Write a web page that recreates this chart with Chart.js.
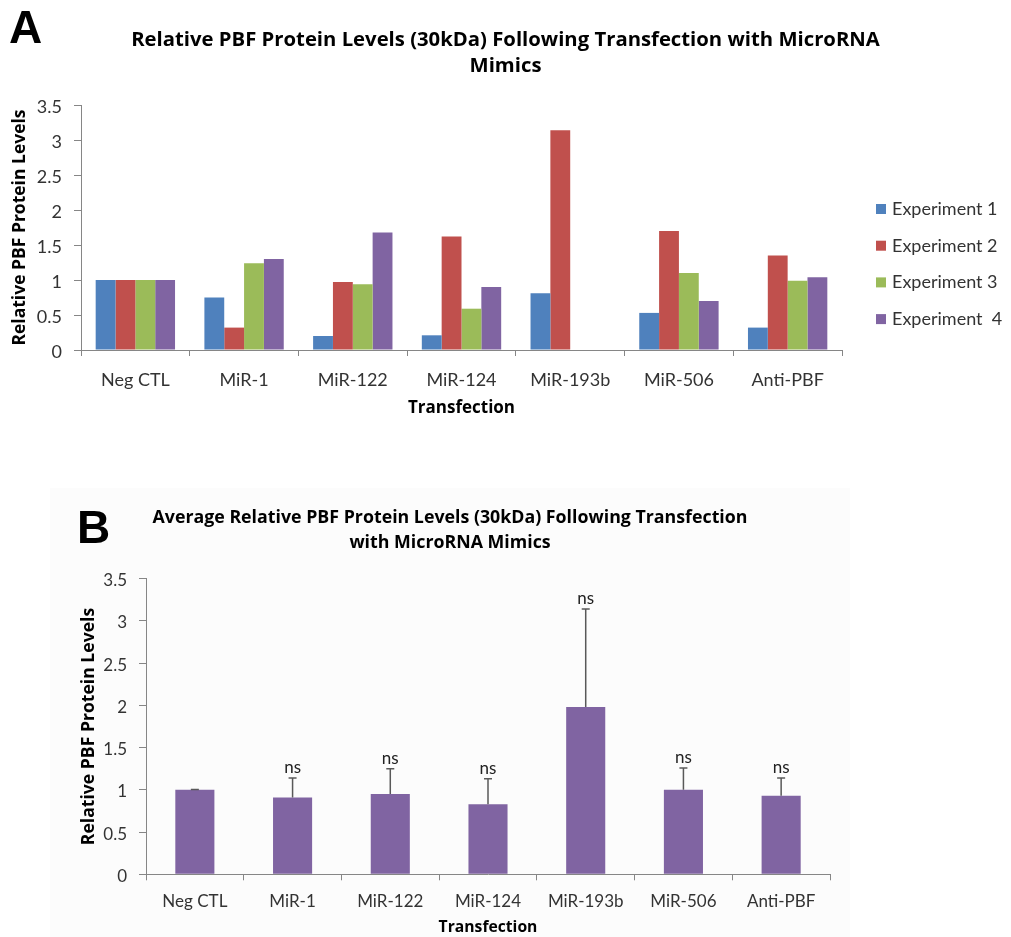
<!DOCTYPE html>
<html>
<head>
<meta charset="utf-8">
<script src="https://cdn.jsdelivr.net/npm/chart.js@4.4.1/dist/chart.umd.min.js"></script>
<style>
  html, body { margin: 0; padding: 0; background: #fff; }
  body { width: 1011px; height: 937px; position: relative; overflow: hidden; }
  .panel-letter { position: absolute; font-family: "Liberation Sans", Arial, sans-serif; font-weight: bold; font-size: 46px; line-height: 1; color: #000; }
  #wrapA { position: absolute; left: 0; top: 0; width: 1011px; height: 430px; }
  #wrapB { position: absolute; left: 50px; top: 488px; width: 800px; height: 449px; background: #fcfcfc; }
</style>
</head>
<body>
<div id="wrapA"><canvas id="chartA"></canvas></div>
<div id="wrapB"><canvas id="chartB"></canvas></div>
<div class="panel-letter" style="left:9px;top:4px">A</div>
<div class="panel-letter" style="left:77px;top:504px">B</div>
<script>
// ---- data ----
const transfections = ['Neg CTL', 'MiR-1', 'MiR-122', 'MiR-124', 'MiR-193b', 'MiR-506', 'Anti-PBF'];

const experiment1 = [1.00, 0.75, 0.20, 0.21, 0.81, 0.53, 0.32];
const experiment2 = [1.00, 0.32, 0.97, 1.62, 3.14, 1.70, 1.35];
const experiment3 = [1.00, 1.24, 0.94, 0.59, null, 1.10, 0.99];
const experiment4 = [1.00, 1.30, 1.68, 0.90, null, 0.70, 1.04];
const experimentLabels = ['Experiment 1', 'Experiment 2', 'Experiment 3', 'Experiment  4'];
const experimentColors = ['#4F81BD', '#C0504D', '#9BBB59', '#8064A2'];

const averageLevels  = [1.00, 0.91, 0.95, 0.83, 1.98, 1.00, 0.93];
const averageErrorUp = [0.005, 0.23, 0.30, 0.30, 1.16, 0.26, 0.21];
const significance   = ['', 'ns', 'ns', 'ns', 'ns', 'ns', 'ns'];

const yTicks = [0, 0.5, 1, 1.5, 2, 2.5, 3, 3.5];

const FONT = 'Lato, "Open Sans", sans-serif';
const BOLD_FONT = '"Open Sans", Lato, sans-serif';
const AXIS_GREY = '#868686';
const TEXT = '#333333';

// legend drawn to the right of panel A
const sideLegend = {
    id: 'sideLegend',
    afterDraw(chart) {
        const {ctx, chartArea} = chart;
        ctx.save();
        ctx.font = '18px ' + FONT;
        ctx.textBaseline = 'middle';
        ctx.textAlign = 'left';
        chart.data.datasets.forEach((ds, i) => {
            const x = chartArea.right + 34;
            const y = chartArea.top + 104 + i * 36.7;
            ctx.fillStyle = ds.backgroundColor;
            ctx.fillRect(x, y - 5, 10, 10);
            ctx.fillStyle = TEXT;
            ctx.fillText(ds.label, x + 16, y);
        });
        ctx.restore();
    }
};

// upper error bars + "ns" marks for panel B
const errorBars = {
    id: 'errorBars',
    afterDatasetsDraw(chart) {
        const {ctx} = chart;
        const yScale = chart.scales.y;
        const meta = chart.getDatasetMeta(0);
        ctx.save();
        ctx.strokeStyle = '#595959';
        ctx.lineWidth = 1.5;
        ctx.fillStyle = '#222';
        ctx.font = '17px ' + FONT;
        ctx.textAlign = 'center';
        ctx.textBaseline = 'alphabetic';
        meta.data.forEach((bar, i) => {
            const top = yScale.getPixelForValue(averageLevels[i] + averageErrorUp[i]);
            ctx.beginPath();
            ctx.moveTo(bar.x, bar.y);
            ctx.lineTo(bar.x, top);
            ctx.moveTo(bar.x - 4, top);
            ctx.lineTo(bar.x + 4, top);
            ctx.stroke();
            if (significance[i]) {
                ctx.fillText(significance[i], bar.x, top - 5);
            }
        });
        ctx.restore();
    }
};

function yAxis(width, tickSize, titleSize, titlePad) {
    return {
        min: 0,
        max: 3.5,
        afterBuildTicks: s => { s.ticks = yTicks.map(v => ({value: v})); },
        afterFit: s => { s.width = width; },
        ticks: {
            color: TEXT,
            font: {family: FONT, size: tickSize},
            padding: 12,
            labelOffset: 2,
            callback: v => String(v)
        },
        grid: {drawOnChartArea: false, color: AXIS_GREY, tickLength: 7},
        border: {color: AXIS_GREY},
        title: {
            display: true,
            text: 'Relative PBF Protein Levels',
            color: '#000',
            font: {family: BOLD_FONT, size: titleSize, weight: 'bold'},
            padding: {top: titlePad, bottom: 0}
        }
    };
}

function xAxis(height, tickSize, tickPad, titleSize, titlePadBottom) {
    return {
        afterFit: s => { s.height = height; },
        ticks: {color: TEXT, font: {family: FONT, size: tickSize}, padding: tickPad},
        grid: {drawOnChartArea: false, offset: true, color: AXIS_GREY, tickLength: 6},
        border: {color: AXIS_GREY},
        title: {
            display: true,
            text: 'Transfection',
            color: '#000',
            font: {family: BOLD_FONT, size: titleSize, weight: 'bold'},
            padding: {top: 0, bottom: titlePadBottom}
        }
    };
}

// empty box on the right so the chart title stays centred on the whole figure
function rightSpace(width) {
    return {
        type: 'linear',
        position: 'right',
        afterFit: s => { s.width = width; },
        grid: {display: false},
        ticks: {display: false},
        border: {display: false}
    };
}

// ---- panel A ----
const seriesA = [experiment1, experiment2, experiment3, experiment4];
new Chart(document.getElementById('chartA').getContext('2d'), {
    type: 'bar',
    data: {
        labels: transfections,
        datasets: seriesA.map((values, i) => ({
            label: experimentLabels[i],
            data: values,
            backgroundColor: experimentColors[i],
            categoryPercentage: 0.73,
            barPercentage: 1.0
        }))
    },
    options: {
        responsive: true,
        maintainAspectRatio: false,
        animation: false,
        layout: {padding: 0},
        plugins: {
            legend: {display: false},
            tooltip: {enabled: false},
            title: {
                display: true,
                text: ['Relative PBF Protein Levels (30kDa) Following Transfection with MicroRNA', 'Mimics'],
                color: '#000',
                font: {family: BOLD_FONT, size: 20.3, weight: 'bold', lineHeight: 26 / 20.3},
                padding: {top: 27, bottom: 26}
            }
        },
        scales: {
            x: xAxis(80, 18, 13, 17, 12),
            y: yAxis(81, 18, 17.5, 10),
            spacer: rightSpace(169)
        }
    },
    plugins: [sideLegend]
});

// ---- panel B ----
new Chart(document.getElementById('chartB').getContext('2d'), {
    type: 'bar',
    data: {
        labels: transfections,
        datasets: [{
            label: 'Average',
            data: averageLevels,
            backgroundColor: '#8064A2',
            categoryPercentage: 0.4,
            barPercentage: 1.0
        }]
    },
    options: {
        responsive: true,
        maintainAspectRatio: false,
        animation: false,
        layout: {padding: 0},
        plugins: {
            legend: {display: false},
            tooltip: {enabled: false},
            title: {
                display: true,
                text: ['Average Relative PBF Protein Levels (30kDa) Following Transfection', 'with MicroRNA Mimics'],
                color: '#000',
                font: {family: BOLD_FONT, size: 17.8, weight: 'bold', lineHeight: 25 / 17.8},
                padding: {top: 17.5, bottom: 23.2}
            }
        },
        scales: {
            x: xAxis(62.7, 17, 11, 15.7, 0),
            y: yAxis(96, 17, 17.6, 28.5),
            spacer: rightSpace(20)
        }
    },
    plugins: [errorBars]
});
</script>
</body>
</html>
